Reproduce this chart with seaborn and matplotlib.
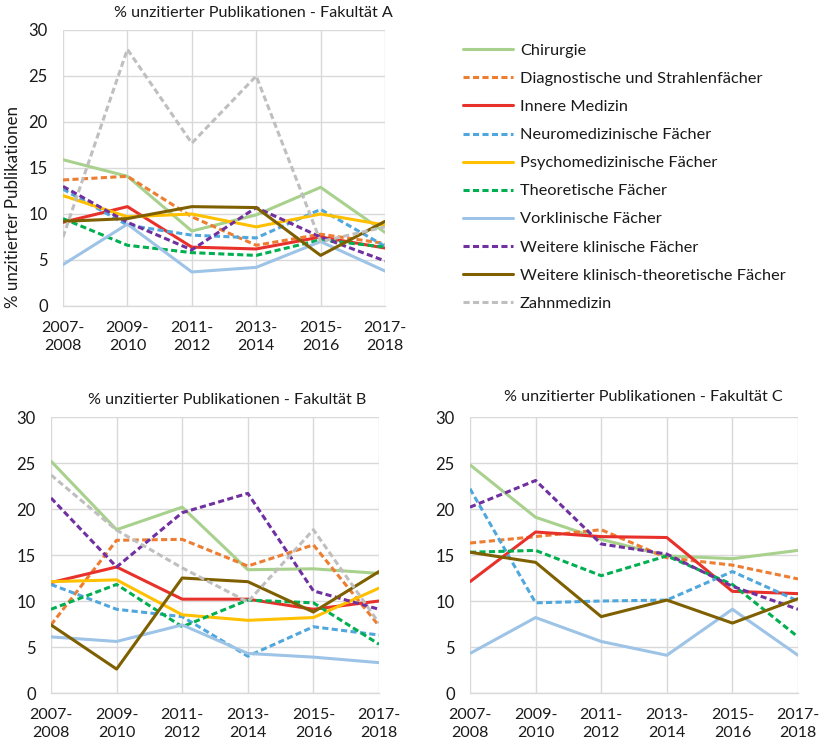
import numpy as np
import pandas as pd
import matplotlib
matplotlib.use("Agg")
import matplotlib.pyplot as plt
import seaborn as sns

sns.set_theme(style="white")
plt.rcParams['font.family'] = ['Lato', 'DejaVu Sans']

periods = ["2007-\n2008", "2009-\n2010", "2011-\n2012", "2013-\n2014", "2015-\n2016", "2017-\n2018"]

series = ["Chirurgie", "Diagnostische und Strahlenfächer", "Innere Medizin",
          "Neuromedizinische Fächer", "Psychomedizinische Fächer", "Theoretische Fächer",
          "Vorklinische Fächer", "Weitere klinische Fächer",
          "Weitere klinisch-theoretische Fächer", "Zahnmedizin"]

colors = ["#A9D18E", "#ED7D31", "#E8312A", "#4FA7DD", "#FFC000", "#00B050",
          "#9DC3E6", "#7030A0", "#7F6000", "#BFBFBF"]
dashed = [False, True, False, True, False, True, False, True, False, True]

nan = np.nan
fak_a = {
    "Chirurgie": [15.9, 14.1, 8.15, 9.9, 12.9, 8.0],
    "Diagnostische und Strahlenfächer": [13.7, 14.1, 9.7, 6.6, 7.8, 6.8],
    "Innere Medizin": [9.1, 10.8, 6.4, 6.2, 7.5, 6.3],
    "Neuromedizinische Fächer": [12.7, 8.8, 7.7, 7.4, 10.5, 6.5],
    "Psychomedizinische Fächer": [12.0, 9.7, 10.0, 8.6, 10.0, 8.8],
    "Theoretische Fächer": [9.5, 6.6, 5.8, 5.5, 7.2, 6.4],
    "Vorklinische Fächer": [4.5, 8.9, 3.7, 4.2, 7.0, 3.8],
    "Weitere klinische Fächer": [13.0, 9.1, 6.1, 10.7, 7.5, 4.9],
    "Weitere klinisch-theoretische Fächer": [9.2, 9.5, 10.8, 10.7, 5.5, 9.2],
    "Zahnmedizin": [7.5, 27.9, 17.7, 25.0, 7.0, 8.6],
}
fak_b = {
    "Chirurgie": [25.2, 17.75, 20.2, 13.4, 13.5, 13.0],
    "Diagnostische und Strahlenfächer": [7.4, 16.6, 16.7, 13.8, 16.1, 7.3],
    "Innere Medizin": [12.0, 13.7, 10.2, 10.2, 9.1, 10.0],
    "Neuromedizinische Fächer": [11.8, 9.1, 8.3, 4.0, 7.2, 6.3],
    "Psychomedizinische Fächer": [12.1, 12.3, 8.5, 7.9, 8.2, 11.4],
    "Theoretische Fächer": [9.1, 11.8, 7.2, 10.1, 9.8, 5.3],
    "Vorklinische Fächer": [6.1, 5.6, 7.4, 4.3, 3.9, 3.3],
    "Weitere klinische Fächer": [21.2, 13.7, 19.6, 21.7, 11.1, 9.1],
    "Weitere klinisch-theoretische Fächer": [7.4, 2.6, 12.5, 12.1, 8.8, 13.2],
    "Zahnmedizin": [23.7, 17.7, 13.6, 9.9, 17.75, 7.6],
}
fak_c = {
    "Chirurgie": [24.8, 19.1, 16.7, 14.9, 14.6, 15.5],
    "Diagnostische und Strahlenfächer": [16.3, 17.0, 17.75, 14.7, 13.9, 12.4],
    "Innere Medizin": [12.1, 17.5, 17.0, 16.9, 11.05, 10.8],
    "Neuromedizinische Fächer": [22.2, 9.8, 10.0, 10.1, 13.2, 10.0],
    "Psychomedizinische Fächer": [nan, nan, nan, nan, nan, nan],
    "Theoretische Fächer": [15.3, 15.5, 12.75, 14.9, 11.8, 6.1],
    "Vorklinische Fächer": [4.3, 8.2, 5.6, 4.1, 9.1, 4.1],
    "Weitere klinische Fächer": [20.2, 23.1, 16.2, 15.1, 11.6, 9.1],
    "Weitere klinisch-theoretische Fächer": [15.3, 14.2, 8.3, 10.1, 7.6, 10.25],
    "Zahnmedizin": [nan, nan, nan, nan, nan, nan],
}

W, H = 824, 749
fig = plt.figure(figsize=(W / 100, H / 100), dpi=100)

def box(l, r, t, b):
    return [l / W, 1 - b / H, (r - l) / W, (b - t) / H]

ax_a = fig.add_axes(box(63, 385, 30, 306))
ax_b = fig.add_axes(box(51, 379, 417, 693))
ax_c = fig.add_axes(box(470, 798, 417, 693))

palette = dict(zip(series, colors))
dash_map = {s: ((2.0, 1.1) if d else "") for s, d in zip(series, dashed)}

grid_c = "#D9D9D9"
fs = 11.5
txt_c = "#1a1a1a"

def draw(ax, data):
    rows = []
    for s in series:
        for i, v in enumerate(data[s]):
            rows.append({"series": s, "idx": i, "value": v})
    df = pd.DataFrame(rows).dropna()
    present = [s for s in series if s in set(df["series"])]
    sns.lineplot(data=df, x="idx", y="value", hue="series", style="series",
                 hue_order=present, style_order=present,
                 palette={s: palette[s] for s in present},
                 dashes={s: dash_map[s] for s in present},
                 linewidth=2.2, ax=ax, legend=False, sort=False)
    ax.set_xlim(0, len(periods) - 1)
    ax.set_ylim(0, 30)
    ax.set_yticks([0, 5, 10, 15, 20, 25, 30])
    ax.set_xticks(range(len(periods)))
    ax.set_xticklabels(periods, fontsize=fs, color=txt_c)
    ax.tick_params(axis="y", labelsize=12, pad=11, length=0, labelcolor=txt_c)
    ax.tick_params(axis="x", pad=11, length=0)
    ax.set_xlabel("")
    ax.set_ylabel("")
    ax.grid(True, color=grid_c, linewidth=1.0)
    ax.set_axisbelow(True)
    for side in ["top", "right", "left"]:
        ax.spines[side].set_visible(False)
    ax.spines["bottom"].set_color(grid_c)
    ax.spines["bottom"].set_linewidth(1.0)
    for lab in ax.get_xticklabels():
        lab.set_linespacing(1.35)

draw(ax_a, fak_a)
draw(ax_b, fak_b)
draw(ax_c, fak_c)

tfs = 11.6
fig.text(253 / W, 1 - 13 / H, "% unzitierter Publikationen - Fakultät A", ha="center", va="center", fontsize=tfs, color=txt_c)
fig.text(227 / W, 1 - 400 / H, "% unzitierter Publikationen - Fakultät B", ha="center", va="center", fontsize=tfs, color=txt_c)
fig.text(643 / W, 1 - 397 / H, "% unzitierter Publikationen - Fakultät C", ha="center", va="center", fontsize=tfs, color=txt_c)
fig.text(13 / W, 1 - 207 / H, "% unzitierter Publikationen", rotation=90, ha="center", va="center", fontsize=12.2, color=txt_c)

handles = ax_a.get_lines()[:len(series)]
leg = fig.legend(handles, series, loc="upper left", bbox_to_anchor=(456 / W, 1 - 37 / H),
                 frameon=False, fontsize=11.8, handlelength=3.1, handletextpad=0.4,
                 labelspacing=0.83, borderaxespad=0)
for t in leg.get_texts():
    t.set_color(txt_c)

fig.savefig("out.png", dpi=100)
